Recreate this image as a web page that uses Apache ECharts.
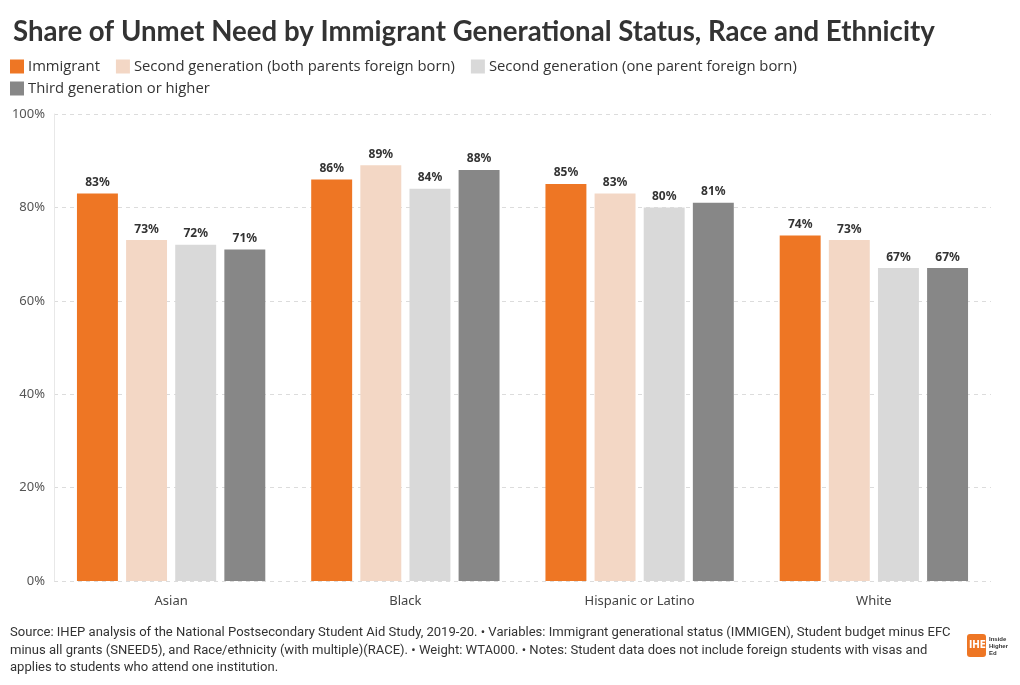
<!DOCTYPE html>
<html><head><meta charset="utf-8">
<script src="https://cdn.jsdelivr.net/npm/echarts@6/dist/echarts.min.js"></script>
<style>html,body{margin:0;padding:0;background:#fff}#c{width:1020px;height:685px}</style>
</head><body><div id="c"></div>
<script>
const categories = ['Asian', 'Black', 'Hispanic or Latino', 'White'];
const seriesNames = ['Immigrant', 'Second generation (both parents foreign born)', 'Second generation (one parent foreign born)', 'Third generation or higher'];
const immigrant = [83, 86, 85, 74];
const secondBoth = [73, 89, 83, 73];
const secondOne = [72, 84, 80, 67];
const thirdPlus = [71, 88, 81, 67];
const yTicks = [0, 20, 40, 60, 80, 100];
const colors = ['#EE7624', '#F3D7C5', '#D9D9D9', '#878787'];
const titleText = 'Share of Unmet Need by Immigrant Generational Status, Race and Ethnicity';
const footerText = 'Source: IHEP analysis of the National Postsecondary Student Aid Study, 2019-20. \u2022 Variables: Immigrant generational status (IMMIGEN), Student budget minus EFC\nminus all grants (SNEED5), and Race/ethnicity (with multiple)(RACE). \u2022 Weight: WTA000. \u2022 Notes: Student data does not include foreign students with visas and\napplies to students who attend one institution.';

const values = [immigrant, secondBoth, secondOne, thirdPlus];
const chart = echarts.init(document.getElementById('c'));
const font = '"Noto Sans", sans-serif';
const legendBase = {
  itemWidth: 14, itemHeight: 14, itemGap: 16, icon: 'rect', orient: 'horizontal',
  textStyle: { fontSize: 14.8, color: '#333', fontFamily: '"Open Sans", sans-serif', padding: [0, 0, 0, -1] }
};
chart.setOption({
  animation: false,
  textStyle: { fontFamily: font },
  title: { text: titleText, left: 8, top: 13, textStyle: { fontSize: 27.6, fontWeight: 'bold', color: '#333', fontFamily: 'Lato, sans-serif' } },
  legend: [
    Object.assign({}, legendBase, { left: 5, top: 54, data: seriesNames.slice(0, 3) }),
    Object.assign({}, legendBase, { left: 5, top: 76, data: seriesNames.slice(3) })
  ],
  grid: { left: 54, right: 29, top: 114, bottom: 104, containLabel: false },
  xAxis: {
    type: 'category', data: categories,
    axisLine: { show: false }, axisTick: { show: false },
    axisLabel: { fontSize: 13, color: '#444', margin: 14, fontFamily: font }
  },
  yAxis: {
    type: 'value', min: 0, max: 100, interval: 20,
    axisLabel: { formatter: v => yTicks.includes(v) ? v + '%' : '', fontSize: 13, color: '#555', margin: 9 },
    axisLine: { show: true, lineStyle: { color: '#e8e8e8' } },
    splitLine: { lineStyle: { type: [4, 4], color: '#dcdcdc' } }
  },
  series: values.map((arr, i) => ({
    name: seriesNames[i], type: 'bar', data: arr,
    barGap: '20%', barCategoryGap: '19.6%',
    itemStyle: { color: colors[i] },
    label: { show: true, position: 'top', formatter: '{c}%', fontSize: 12, fontWeight: 'bold', color: '#333', distance: 5 }
  })),
  graphic: [
    { type: 'text', left: 10, top: 624, style: { text: footerText, fontSize: 13.05, lineHeight: 17.5, fill: '#333', fontFamily: 'Roboto, sans-serif' } },
    { type: 'rect', left: 967, top: 634, shape: { width: 19, height: 23, r: 3 }, style: { fill: '#EE7624' } },
    { type: 'text', left: 969, top: 640, style: { text: 'IHE', fontSize: 10, fontWeight: 'bold', fill: '#fff', fontFamily: '"Liberation Sans Narrow", "DejaVu Sans Condensed", sans-serif' } },
    { type: 'text', left: 989, top: 636, style: { text: 'Inside\nHigher\nEd', fontSize: 6, lineHeight: 7, fontWeight: 'bold', fill: '#333' } }
  ]
});
</script></body></html>
